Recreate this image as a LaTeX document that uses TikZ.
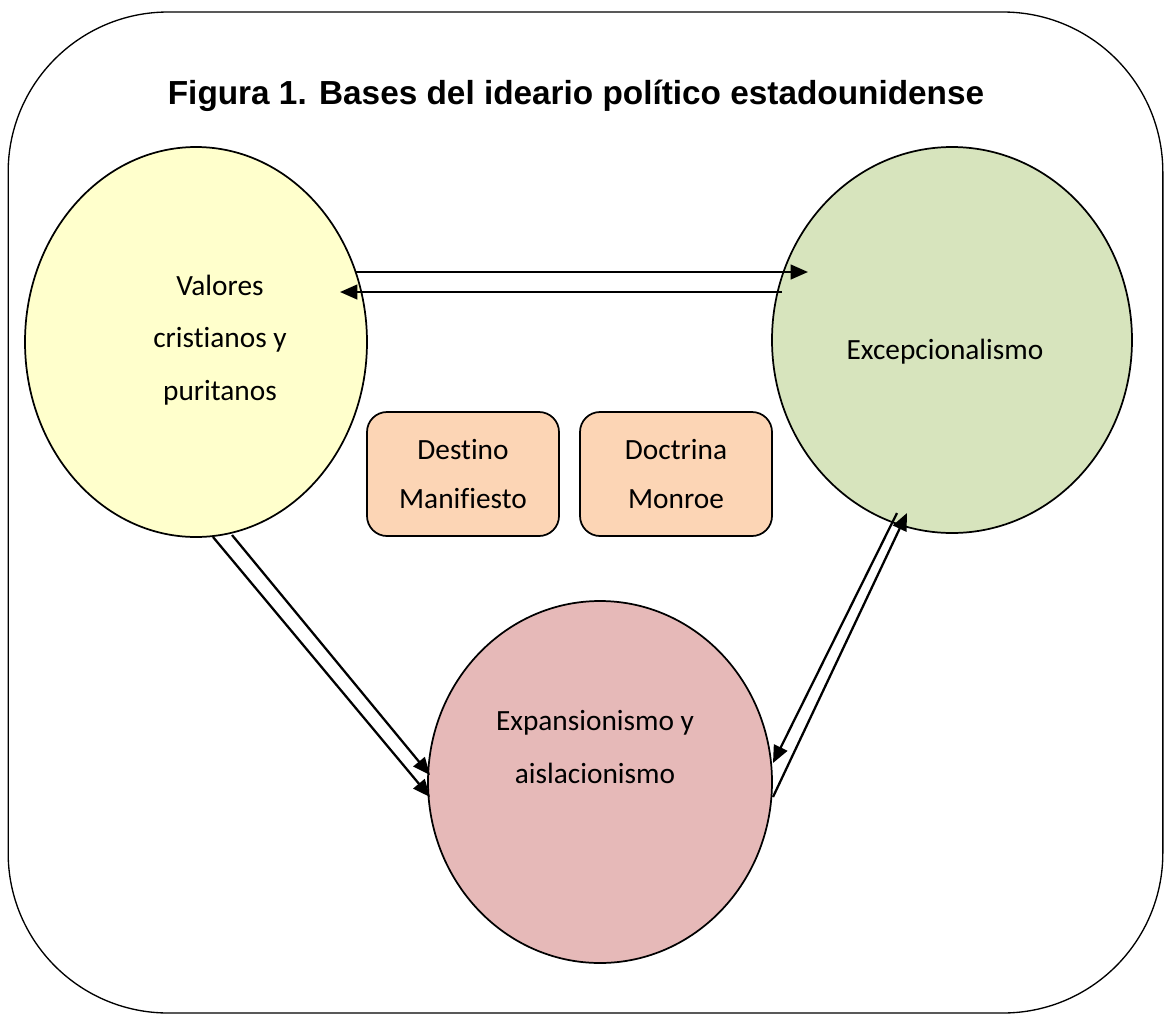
\documentclass[tikz,border=0pt]{standalone}
\usepackage{fontspec}
\setmainfont{Carlito}[Ligatures=NoCommon]
\newfontfamily\titlefont{Liberation Sans}
\usetikzlibrary{shapes.geometric,arrows.meta}
\definecolor{cyellow}{HTML}{FFFFCC}
\definecolor{cgreen}{HTML}{D7E4BD}
\definecolor{cpink}{HTML}{E6B9B8}
\definecolor{corange}{HTML}{FCD5B5}
\tikzset{
  blob/.style={ellipse, draw=black, line width=1.3pt, inner sep=0pt},
  lbl/.style={align=center, font=\fontsize{22}{39.5}\selectfont},
  tagbox/.style={draw=black, line width=1.3pt, fill=corange, rounded corners=15pt,
     minimum width=144pt, minimum height=93pt, align=center, inner sep=0pt,
     font=\fontsize{22}{36.5}\selectfont},
  arr/.style={line width=1.7pt, -{Triangle[length=13pt,width=11pt]}},
}
\begin{document}
\begin{tikzpicture}[x=0.75pt,y=-0.75pt]
\useasboundingbox (0,0) rectangle (1165,1015);
\node[draw=black, line width=1pt, rounded corners=120pt, minimum width=866pt, minimum height=750.75pt, inner sep=0pt] (frame) at (585.5,512.5) {};
\node[font=\titlefont\bfseries\fontsize{25}{30}\selectfont, anchor=base] (title) at (576,104) {Figura 1. Bases del ideario político estadounidense};

\node[blob, fill=cyellow, minimum width=256.5pt, minimum height=292.5pt] (val) at (196,342) {};
\node[blob, fill=cgreen, minimum width=270pt, minimum height=289.5pt] (exc) at (952,340) {};
\node[blob, fill=cpink, minimum width=258pt, minimum height=271.5pt] (exp) at (600,782) {};

\node[lbl] (valt) at (220,340) {Valores\\cristianos y\\puritanos};
\node[lbl] (exct) at (945,352) {Excepcionalismo};
\node[lbl] (expt) at (595,747) {Expansionismo y\\aislacionismo};

\node[tagbox] (dest) at (463,474) {\raisebox{3pt}{\begin{tabular}{@{}c@{}}Destino\\Manifiesto\end{tabular}}};
\node[tagbox] (monr) at (676,474) {\raisebox{3pt}{\begin{tabular}{@{}c@{}}Doctrina\\Monroe\end{tabular}}};

\coordinate (a1s) at (355,272); \coordinate (a1e) at (808,272);
\coordinate (a2s) at (782,292); \coordinate (a2e) at (340,292);
\coordinate (b1s) at (213,537); \coordinate (b1e) at (430,797);
\coordinate (b2s) at (232,535); \coordinate (b2e) at (430,775);
\coordinate (c1s) at (897,513); \coordinate (c1e) at (773,763);
\coordinate (c2s) at (773,797); \coordinate (c2e) at (907,513);

\draw[arr] (a1s) -- (a1e);
\draw[arr] (a2s) -- (a2e);
\draw[arr] (b1s) -- (b1e);
\draw[arr] (b2s) -- (b2e);
\draw[arr] (c1s) -- (c1e);
\draw[arr] (c2s) -- (c2e);
\end{tikzpicture}
\end{document}
